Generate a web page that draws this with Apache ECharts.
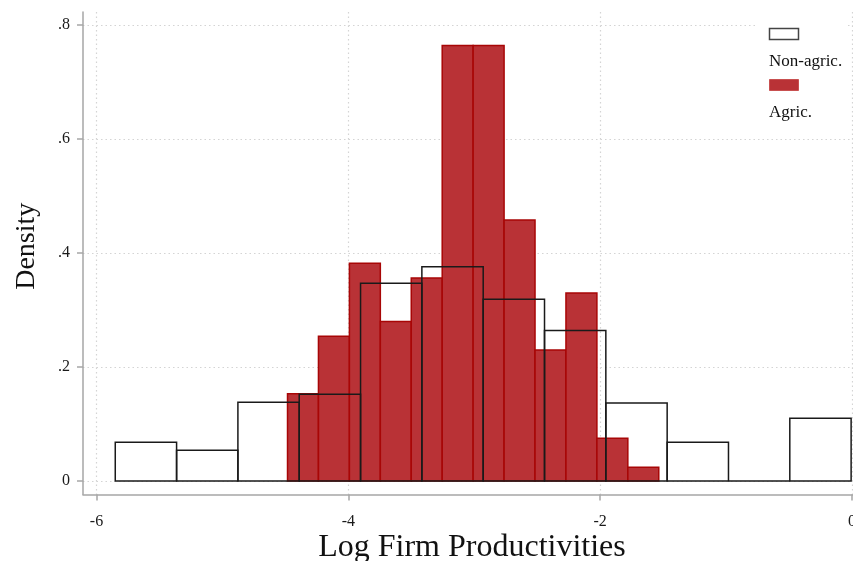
<!DOCTYPE html>
<html>
<head>
<meta charset="utf-8">
<script src="https://cdn.jsdelivr.net/npm/echarts@6/dist/echarts.min.js"></script>
<style>
html,body{margin:0;padding:0;background:#fff;}
#chart{width:853px;height:561px;}
</style>
</head>
<body>
<div id="chart"></div>
<script>
// ---- data ----
const seriesNames = ['Non-agric.', 'Agric.'];
const nonAgricStart = -5.851;
const nonAgricWidth = 0.487;
const nonAgricDensity = [0.068, 0.054, 0.138, 0.152, 0.347, 0.376, 0.319, 0.264, 0.137, 0.068, 0.000, 0.110];
const agricStart = -4.483;
const agricWidth = 0.2457;
const agricDensity = [0.153, 0.254, 0.382, 0.280, 0.356, 0.764, 0.764, 0.458, 0.230, 0.330, 0.075, 0.024];
const xTicks = [-6, -4, -2, 0];
const xTickLabels = ['-6', '-4', '-2', '0'];
const yTicks = [0, 0.2, 0.4, 0.6, 0.8];
const yTickLabels = ['0', '.2', '.4', '.6', '.8'];

function toBins(start, width, vals) {
  return vals.map((v, i) => [start + i * width, start + (i + 1) * width, v]);
}

function barRenderer(style) {
  return function (params, api) {
    const p0 = api.coord([api.value(0), api.value(2)]);
    const p1 = api.coord([api.value(1), 0]);
    return {
      type: 'rect',
      shape: { x: p0[0], y: p0[1], width: p1[0] - p0[0], height: p1[1] - p0[1] },
      style: style
    };
  };
}

const serif = '"Liberation Serif", "DejaVu Serif", serif';
const chart = echarts.init(document.getElementById('chart'), null, { renderer: 'canvas' });

chart.setOption({
  backgroundColor: '#ffffff',
  animation: false,
  grid: { left: 83, right: 0, top: 12, bottom: 66.5, containLabel: false, outerBoundsMode: 'none' },
  xAxis: {
    type: 'value',
    min: -6.1072,
    max: 0.0079,
    name: 'Log Firm Productivities',
    nameLocation: 'middle',
    nameGap: 37,
    nameMoveOverlap: false,
    nameTextStyle: { fontFamily: serif, fontSize: 32, color: '#111', padding: [0, 0, 0, 8] },
    axisLine: { show: true, onZero: false, lineStyle: { color: '#a6a6a6', width: 1.5 } },
    axisTick: { show: true, customValues: xTicks, length: 6, lineStyle: { color: '#a6a6a6', width: 1.5 } },
    axisLabel: {
      customValues: xTicks,
      formatter: v => xTickLabels[xTicks.indexOf(v)],
      fontFamily: serif, fontSize: 16, color: '#1a1a1a', margin: 19
    },
    splitLine: { show: true, lineStyle: { color: '#d4d4d4', type: [1.5, 3], width: 1.2 } }
  },
  yAxis: {
    type: 'value',
    min: -0.0237,
    max: 0.8228,
    name: 'Density',
    nameLocation: 'middle',
    nameGap: 42,
    nameRotate: 90,
    nameTextStyle: { fontFamily: serif, fontSize: 28, color: '#111', padding: [0, 0, 0, 14] },
    axisLine: { show: true, onZero: false, lineStyle: { color: '#a6a6a6', width: 1.5 } },
    axisTick: { show: true, customValues: yTicks, length: 6, lineStyle: { color: '#a6a6a6', width: 1.5 } },
    axisLabel: {
      customValues: yTicks,
      formatter: v => yTickLabels[yTicks.indexOf(v)],
      fontFamily: serif, fontSize: 16, color: '#1a1a1a', margin: 13
    },
    splitLine: { show: true, lineStyle: { color: '#d4d4d4', type: [1.5, 3], width: 1.2 } }
  },
  series: [
    {
      name: seriesNames[1],
      type: 'custom',
      z: 2,
      renderItem: barRenderer({ fill: '#b93236', stroke: '#a80606', lineWidth: 1.5 }),
      encode: { x: [0, 1], y: 2 },
      data: toBins(agricStart, agricWidth, agricDensity)
    },
    {
      name: seriesNames[0],
      type: 'custom',
      z: 3,
      renderItem: barRenderer({ fill: 'rgba(0,0,0,0)', stroke: '#1a1a1a', lineWidth: 1.5 }),
      encode: { x: [0, 1], y: 2 },
      data: toBins(nonAgricStart, nonAgricWidth, nonAgricDensity)
    }
  ],
  graphic: [
    { type: 'rect', z: 5, shape: { x: 757, y: 14, width: 91, height: 116 }, style: { fill: '#ffffff' } },
    { type: 'rect', z: 6, shape: { x: 769.5, y: 28.5, width: 29, height: 11 }, style: { fill: '#ffffff', stroke: '#444', lineWidth: 1.5 } },
    { type: 'text', z: 6, x: 769, y: 62, style: { text: seriesNames[0], fontFamily: serif, fontSize: 17, fill: '#111', textVerticalAlign: 'middle' } },
    { type: 'rect', z: 6, shape: { x: 769.5, y: 79.5, width: 29, height: 11 }, style: { fill: '#b93236', stroke: '#c85050', lineWidth: 1 } },
    { type: 'text', z: 6, x: 769, y: 113, style: { text: seriesNames[1], fontFamily: serif, fontSize: 17, fill: '#111', textVerticalAlign: 'middle' } }
  ]
});
</script>
</body>
</html>
